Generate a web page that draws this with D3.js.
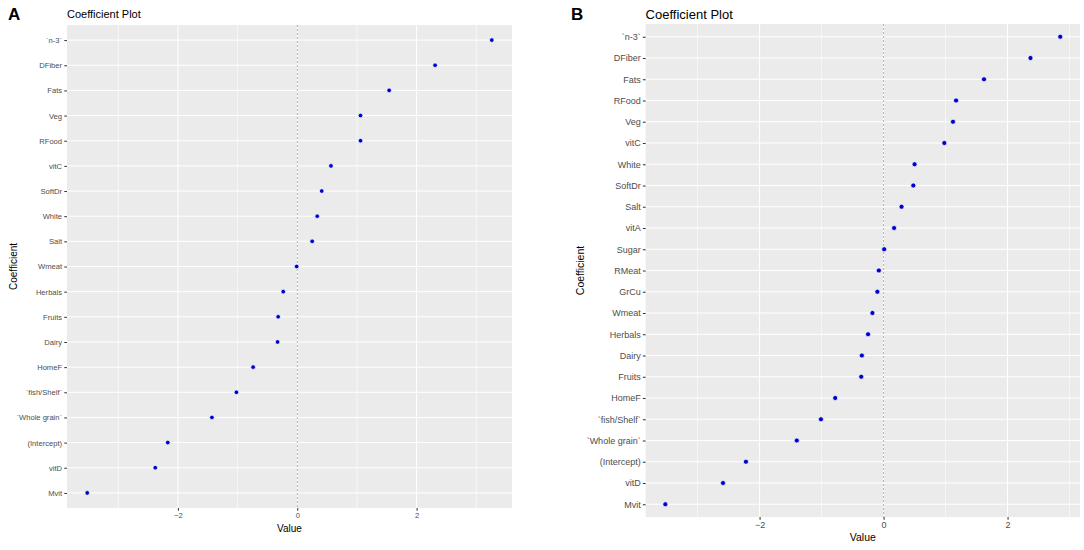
<!DOCTYPE html>
<html>
<head>
<meta charset="utf-8">
<script src="https://cdn.jsdelivr.net/npm/d3@7/dist/d3.min.js"></script>
<style>
  html, body { margin: 0; padding: 0; background: #fff; }
  svg { display: block; font-family: "Liberation Sans", Arial, sans-serif; }
</style>
</head>
<body>
<svg id="chart" width="1084" height="550"></svg>
<script>
// ---- Data ----
const categoriesA = ["`n-3`","DFiber","Fats","Veg","RFood","vitC","SoftDr","White","Salt","Wmeat","Herbals","Fruits","Dairy","HomeF","`fish/Shelf`","`Whole grain`","(Intercept)","vitD","Mvit"];
const valuesA = [3.26, 2.31, 1.54, 1.06, 1.06, 0.565, 0.41, 0.335, 0.25, -0.01, -0.235, -0.32, -0.33, -0.74, -1.02, -1.43, -2.17, -2.38, -3.52];

const categoriesB = ["`n-3`","DFiber","Fats","RFood","Veg","vitC","White","SoftDr","Salt","vitA","Sugar","RMeat","GrCu","Wmeat","Herbals","Dairy","Fruits","HomeF","`fish/Shelf`","`Whole grain`","(Intercept)","vitD","Mvit"];
const valuesB = [2.85, 2.37, 1.62, 1.17, 1.12, 0.98, 0.50, 0.48, 0.29, 0.17, 0.01, -0.076, -0.10, -0.18, -0.25, -0.35, -0.36, -0.78, -1.01, -1.40, -2.22, -2.59, -3.52];

const xTicks = [-2, 0, 2];
const xMinor = [-3, -1, 1, 3];
const panelLetters = ["A", "B"];
const titleText = "Coefficient Plot";
const xTitle = "Value";
const yTitle = "Coefficient";

const svg = d3.select("#chart");

function drawPanel(cfg) {
  const g = svg.append("g");
  const ext = d3.extent(cfg.values);
  const pad = (ext[1] - ext[0]) * 0.05;
  const x = d3.scaleLinear().domain([ext[0] - pad, ext[1] + pad]).range([cfg.left, cfg.right]);
  const y = d3.scalePoint().domain(cfg.categories).range([cfg.top, cfg.bottom]).padding(0.6);

  g.append("rect")
    .attr("x", cfg.left).attr("y", cfg.top)
    .attr("width", cfg.right - cfg.left).attr("height", cfg.bottom - cfg.top)
    .attr("fill", "#EBEBEB");

  g.selectAll(".minor").data(xMinor.filter(v => x(v) > cfg.left && x(v) < cfg.right)).enter()
    .append("line")
    .attr("x1", d => x(d)).attr("x2", d => x(d))
    .attr("y1", cfg.top).attr("y2", cfg.bottom)
    .attr("stroke", "#fff").attr("stroke-width", cfg.minorW);

  g.selectAll(".majorx").data(xTicks).enter()
    .append("line")
    .attr("x1", d => x(d)).attr("x2", d => x(d))
    .attr("y1", cfg.top).attr("y2", cfg.bottom)
    .attr("stroke", "#fff").attr("stroke-width", cfg.majorW);

  g.selectAll(".majory").data(cfg.categories).enter()
    .append("line")
    .attr("x1", cfg.left).attr("x2", cfg.right)
    .attr("y1", d => y(d)).attr("y2", d => y(d))
    .attr("stroke", "#fff").attr("stroke-width", cfg.majorW);

  g.append("line")
    .attr("x1", x(0)).attr("x2", x(0))
    .attr("y1", cfg.top).attr("y2", cfg.bottom)
    .attr("stroke", "#B3B3B3").attr("stroke-width", 1)
    .attr("stroke-dasharray", "2,2");

  g.selectAll(".pt").data(cfg.categories).enter()
    .append("circle")
    .attr("cx", (d, i) => x(cfg.values[i]))
    .attr("cy", d => y(d))
    .attr("r", cfg.r)
    .attr("fill", "#0000CD")
    .attr("stroke", "#fff").attr("stroke-width", 0.7);

  const ya = g.append("g")
    .attr("transform", `translate(${cfg.left},0)`)
    .call(d3.axisLeft(y).tickSize(2.75).tickPadding(2.2));
  ya.select(".domain").remove();
  ya.selectAll(".tick line").attr("stroke", "#333").attr("stroke-width", cfg.majorW);
  ya.selectAll(".tick text")
    .attr("fill", "#4D4D4D")
    .style("font-size", cfg.tickFont + "px")
    .style("font-family", '"Liberation Sans", Arial, sans-serif');

  const xa = g.append("g")
    .attr("transform", `translate(0,${cfg.bottom})`)
    .call(d3.axisBottom(x).tickValues(xTicks).tickFormat(d3.format("d")).tickSize(2.75).tickPadding(2.2));
  xa.select(".domain").remove();
  xa.selectAll(".tick line").attr("stroke", "#333").attr("stroke-width", cfg.majorW);
  xa.selectAll(".tick text")
    .attr("fill", "#4D4D4D")
    .style("font-size", cfg.tickFont + "px")
    .style("font-family", '"Liberation Sans", Arial, sans-serif');

  g.append("text")
    .attr("x", (cfg.left + cfg.right) / 2)
    .attr("y", cfg.xTitleY)
    .attr("text-anchor", "middle")
    .style("font-size", cfg.axisTitleFont + "px")
    .attr("fill", "#000")
    .text(xTitle);

  g.append("text")
    .attr("transform", `translate(${cfg.yTitleX},${(cfg.top + cfg.bottom) / 2}) rotate(-90)`)
    .attr("text-anchor", "middle")
    .attr("dominant-baseline", "central")
    .style("font-size", cfg.axisTitleFont + "px")
    .attr("fill", "#000")
    .text(yTitle);

  g.append("text")
    .attr("x", cfg.left)
    .attr("y", cfg.titleY)
    .style("font-size", cfg.titleFont + "px")
    .attr("fill", "#000")
    .text(titleText);

  g.append("text")
    .attr("x", cfg.letterX)
    .attr("y", cfg.letterY)
    .style("font-size", cfg.letterFont + "px")
    .style("font-weight", "bold")
    .attr("fill", "#000")
    .text(cfg.letter);
}

drawPanel({
  categories: categoriesA, values: valuesA, letter: panelLetters[0],
  left: 67, right: 512, top: 25, bottom: 508,
  r: 2.3, majorW: 1, minorW: 0.6,
  tickFont: 7.6, axisTitleFont: 10, titleFont: 11, letterFont: 17,
  xTitleY: 531.5, yTitleX: 13, titleY: 18, letterX: 8, letterY: 20
});

drawPanel({
  categories: categoriesB, values: valuesB, letter: panelLetters[1],
  left: 645.6, right: 1080, top: 24, bottom: 517,
  r: 2.5, majorW: 1.05, minorW: 0.6,
  tickFont: 9, axisTitleFont: 10.5, titleFont: 13, letterFont: 17,
  xTitleY: 540.5, yTitleX: 580, titleY: 19, letterX: 571, letterY: 20
});
</script>
</body>
</html>
